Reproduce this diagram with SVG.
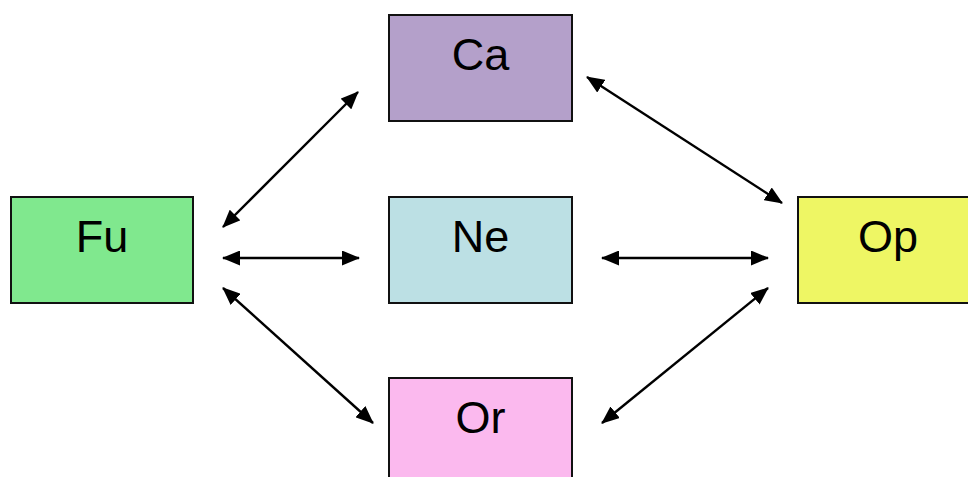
<svg xmlns="http://www.w3.org/2000/svg" width="968" height="477" viewBox="0 0 968 477">
<style>
.box{stroke:#111;stroke-width:2}
.lbl{font-family:"Liberation Sans",Arial,sans-serif;font-size:45px;fill:#000;text-anchor:middle}
.conn line{stroke:#000;stroke-width:2.4;marker-start:url(#ah);marker-end:url(#ah)}
</style>
<defs>
<marker id="ah" markerUnits="userSpaceOnUse" markerWidth="18" markerHeight="15" viewBox="0 0 18 15" refX="17" refY="7.5" orient="auto-start-reverse">
<path d="M0,0 L18,7.5 L0,15 Z" fill="#000"/>
</marker>
</defs>
<rect width="968" height="477" fill="#fff"/>
<g id="node-ca"><rect class="box" x="389" y="15" width="183" height="106" fill="#b4a0ca"/><text class="lbl" x="480.5" y="70">Ca</text></g>
<g id="node-fu"><rect class="box" x="11" y="197" width="182" height="106" fill="#80e88e"/><text class="lbl" x="102" y="252">Fu</text></g>
<g id="node-ne"><rect class="box" x="389" y="197" width="183" height="106" fill="#bce0e4"/><text class="lbl" x="480.5" y="252">Ne</text></g>
<g id="node-op"><rect class="box" x="798" y="197" width="182" height="106" fill="#eef664"/><text class="lbl" x="888" y="252">Op</text></g>
<g id="node-or"><rect class="box" x="389" y="378" width="183" height="106" fill="#fbb9ee"/><text class="lbl" x="480.5" y="433">Or</text></g>
<g id="connectors" class="conn">
<line x1="223" y1="227" x2="358" y2="92"/>
<line x1="587" y1="77" x2="782" y2="203"/>
<line x1="223" y1="258" x2="359" y2="258"/>
<line x1="602" y1="258" x2="768" y2="258"/>
<line x1="223" y1="288" x2="373" y2="423"/>
<line x1="768" y1="288" x2="602" y2="423"/>
</g>
</svg>
